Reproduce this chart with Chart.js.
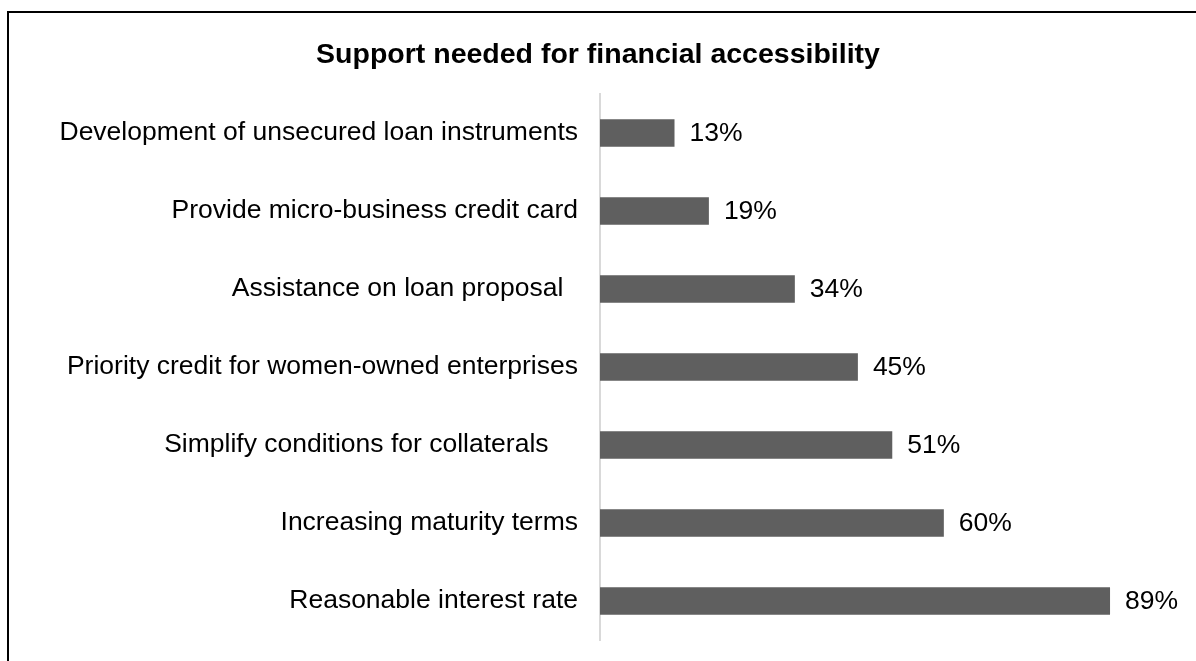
<!DOCTYPE html>
<html>
<head>
<meta charset="utf-8">
<title>Support needed for financial accessibility</title>
<script src="https://cdn.jsdelivr.net/npm/chart.js@4.4.1/dist/chart.umd.min.js"></script>
<style>
  html, body { margin: 0; padding: 0; background: #fff; }
  #wrap { position: relative; width: 1196px; height: 661px; overflow: hidden; }
  #frame {
    position: absolute; left: 7px; top: 11px; width: 1300px; height: 800px;
    border-left: 2px solid #000; border-top: 2px solid #000; box-sizing: border-box;
  }
  canvas { position: absolute; left: 0; top: 0; }
</style>
</head>
<body>
<div id="wrap">
  <div id="frame"></div>
  <canvas id="chart" width="1196" height="661"></canvas>
</div>
<script>
// Categories, top to bottom (trailing spaces kept as in the source labels)
const categories = [
  'Development of unsecured loan instruments',
  'Provide micro-business credit card',
  'Assistance on loan proposal  ',
  'Priority credit for women-owned enterprises',
  'Simplify conditions for collaterals    ',
  'Increasing maturity terms',
  'Reasonable interest rate'
];
// Share of respondents (%)
const shares = [13, 19, 34, 45, 51, 60, 89];
const valueSuffix = '%';

const FONT = "'Liberation Sans', Arial, sans-serif";

// Writes the percentage to the right of each bar
const valueLabels = {
  id: 'valueLabels',
  afterDatasetsDraw(chart) {
    const ctx = chart.ctx;
    const meta = chart.getDatasetMeta(0);
    const data = chart.data.datasets[0].data;
    ctx.save();
    ctx.font = '26.5px ' + FONT;
    ctx.fillStyle = '#000';
    ctx.textAlign = 'left';
    ctx.textBaseline = 'middle';
    meta.data.forEach((bar, i) => {
      ctx.fillText(data[i] + valueSuffix, bar.x + 15, bar.y + 1);
    });
    ctx.restore();
  }
};

new Chart(document.getElementById('chart'), {
  type: 'bar',
  data: {
    labels: categories,
    datasets: [{
      data: shares,
      backgroundColor: '#5f5f5f',
      borderWidth: 0,
      barPercentage: 0.353,
      categoryPercentage: 1.0
    }]
  },
  options: {
    indexAxis: 'y',
    responsive: false,
    animation: false,
    devicePixelRatio: 1,
    layout: { padding: { left: 0, right: 0, top: 0, bottom: 21 } },
    plugins: {
      legend: { display: false },
      tooltip: { enabled: false },
      title: {
        display: true,
        text: 'Support needed for financial accessibility',
        color: '#000',
        font: { family: FONT, size: 28.5, weight: 'bold', lineHeight: 1.2 },
        padding: { top: 37.8, bottom: 22 }
      }
    },
    scales: {
      x: {
        display: false,
        min: 0,
        max: 104
      },
      y: {
        afterFit(scale) {
          // fixed label column; the category axis needs no extra end padding
          scale.width = 600;
          scale.paddingTop = 0;
          scale.paddingBottom = 0;
        },
        grid: { display: false, drawTicks: false },
        border: { display: true, color: '#d9d9d9', width: 2 },
        ticks: {
          padding: 22,
          color: '#000',
          font: { family: FONT, size: 26.5 }
        }
      }
    }
  },
  plugins: [valueLabels]
});
</script>
</body>
</html>
